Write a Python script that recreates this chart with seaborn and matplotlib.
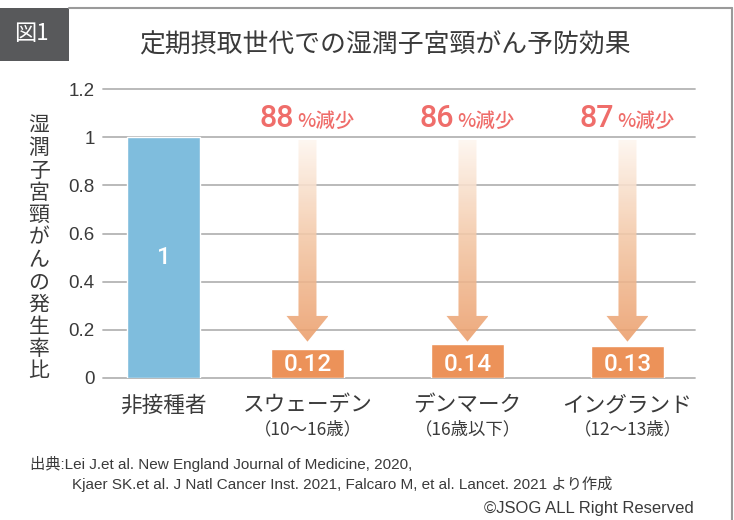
import numpy as np
import pandas as pd
import matplotlib
matplotlib.use('Agg')
import matplotlib.pyplot as plt
import seaborn as sns
import matplotlib.transforms as mtransforms
from matplotlib.patches import Polygon, Rectangle
from matplotlib.lines import Line2D
from matplotlib.colors import LinearSegmentedColormap

# ---------------- data ----------------
groups = ['非接種者', 'スウェーデン', 'デンマーク', 'イングランド']
age_notes = ['', '（10〜16歳）', '（16歳以下）', '（12〜13歳）']
incidence_ratio = [1, 0.12, 0.14, 0.13]
bar_labels = ['1', '0.12', '0.14', '0.13']
reduction_pct = [None, 88, 86, 87]
yticks = [0, 0.2, 0.4, 0.6, 0.8, 1.0, 1.2]
ytick_labels = ['0', '0.2', '0.4', '0.6', '0.8', '1', '1.2']
title = '定期摂取世代での湿潤子宮頸がん予防効果'
ylabel = '湿潤子宮頸がんの発生率比'
source_1 = '出典:Lei J.et al. New England Journal of Medicine, 2020,'
source_2 = 'Kjaer SK.et al. J Natl Cancer Inst. 2021, Falcaro M, et al. Lancet. 2021 より作成'
copyright_text = '©JSOG ALL Right Reserved'

# ---------------- style ----------------
sns.set_theme(style='white')
plt.rcParams['font.family'] = ['Liberation Sans', 'Noto Sans CJK JP']
JP = ['Noto Sans CJK JP', 'Liberation Sans']
NUM = ['Roboto', 'Liberation Sans']
TXT = '#3a3a3a'
BLUE = '#7fbddd'
ORANGE = '#ec9259'
RED = '#ef6d6a'

W, H = 734, 520
fig = plt.figure(figsize=(W / 100, H / 100), dpi=100)
fig.patch.set_facecolor('white')

def fx(px):
    return px / W

def fy(py):
    return 1 - py / H

ax = fig.add_axes([fx(103), fy(377.7), (695 - 103) / W, (377.7 - 89.3) / H])

df = pd.DataFrame({'group': groups, 'ratio': incidence_ratio})
sns.barplot(data=df, x='group', y='ratio', hue='group',
            palette=[BLUE, ORANGE, ORANGE, ORANGE], legend=False,
            width=0.456, saturation=1, ax=ax, zorder=2)

# first bar sits slightly right of its category slot in the reference
p0 = ax.patches[0]
p0.set_x(p0.get_x() + 0.1)
centers = [p.get_x() + p.get_width() / 2 for p in ax.patches]

ax.set_xlim(-0.278, 3.422)
ax.set_ylim(0, 1.2)
ax.set_yticks(yticks)
ax.set_yticklabels(ytick_labels)
ax.yaxis.grid(True, color='#b4b4b4', lw=1.3, zorder=0)
ax.xaxis.grid(False)
ax.set_axisbelow(True)
for gl in ax.get_ygridlines():
    gl.set_clip_on(False)
for s in ax.spines.values():
    s.set_visible(False)
ax.set_xlabel('')
ax.set_ylabel('')
ax.tick_params(axis='y', length=0, pad=6, labelsize=13.5, labelcolor=TXT)
ax.set_xticks(centers)
ax.set_xticklabels(groups, fontfamily=JP, fontsize=15.6, color=TXT)
ax.tick_params(axis='x', length=0, pad=12)

# value labels inside bars
for i, (c, lab) in enumerate(zip(centers, bar_labels)):
    yv = 0.5 if i == 0 else 0.057
    ax.text(c, yv, lab, ha='center', va='center', color='white',
            fontsize=17.5, fontfamily=NUM, fontweight='medium', zorder=5)

# gradient arrows
cmap = LinearSegmentedColormap.from_list('arr', ['#fef6ef', '#f3c6a4', '#eb9e6b'])
grad = np.linspace(0, 1, 256).reshape(-1, 1)
sw, hw = 9 / 160, 21 / 160
y_top, y_head, y_tip = 0.99, 0.257, 0.15
for c, pct in zip(centers, reduction_pct):
    if pct is None:
        continue
    verts = [(c - sw, y_top), (c + sw, y_top), (c + sw, y_head), (c + hw, y_head),
             (c, y_tip), (c - hw, y_head), (c - sw, y_head)]
    poly = Polygon(verts, closed=True, facecolor='none', edgecolor='none',
                   transform=ax.transData)
    ax.add_patch(poly)
    im = ax.imshow(grad, cmap=cmap, extent=(c - hw, c + hw, y_tip, y_top),
                   origin='upper', aspect='auto', alpha=0.88, zorder=3,
                   interpolation='bilinear')
    im.set_clip_path(poly)
    ax.annotate(f'{pct}', xy=(c, 1.042), xytext=(-13, 0), textcoords='offset pixels',
                ha='right', va='baseline', fontsize=22, color=RED,
                fontfamily=NUM, fontweight='medium', annotation_clip=False)
    ax.annotate('%減少', xy=(c, 1.042), xytext=(-10, 0), textcoords='offset pixels',
                ha='left', va='baseline', fontsize=14, color=RED,
                fontfamily=JP, fontweight='medium', annotation_clip=False)

ax.set_xlim(-0.278, 3.422)
ax.set_ylim(0, 1.2)

# age notes under labels
trans = mtransforms.blended_transform_factory(ax.transData, fig.transFigure)
for c, note in zip(centers, age_notes):
    if note:
        ax.text(c, fy(429), note, transform=trans, ha='center', va='center',
                fontsize=12.5, color=TXT, fontfamily=JP)

# vertical y-axis label (stacked characters)
pitch = 22.3
for k, ch in enumerate(ylabel):
    fig.text(fx(39), fy(126 + k * pitch), ch, ha='center', va='center',
             fontsize=15, color=TXT, fontfamily=JP)

# header box and frame
fig.patches.append(Rectangle((0, fy(61)), fx(69), 53 / H, transform=fig.transFigure,
                             facecolor='#58595b', edgecolor='none'))
fig.text(fx(31), fy(34), '図1', ha='center', va='center', color='white',
         fontsize=16, fontfamily=JP)
fig.lines.append(Line2D([fx(69), fx(731.5)], [fy(7.5), fy(7.5)], transform=fig.transFigure,
                        color='#9a9a9a', lw=1.5))
fig.lines.append(Line2D([fx(731.5), fx(731.5)], [fy(7.5), 0], transform=fig.transFigure,
                        color='#9a9a9a', lw=1.5))

fig.text(fx(385), fy(45), title, ha='center', va='center', fontsize=18.6,
         color=TXT, fontfamily=JP)

fig.text(fx(30), fy(464), source_1, ha='left', va='center', fontsize=11, color=TXT,
         fontfamily=['Liberation Sans', 'Noto Sans CJK JP'])
fig.text(fx(72), fy(484), source_2, ha='left', va='center', fontsize=11, color=TXT,
         fontfamily=['Liberation Sans', 'Noto Sans CJK JP'])
fig.text(fx(694), fy(509), copyright_text, ha='right', va='center', fontsize=12,
         color=TXT, fontfamily=['Liberation Sans', 'Noto Sans CJK JP'])

fig.savefig('out.png', dpi=100, facecolor='white')
